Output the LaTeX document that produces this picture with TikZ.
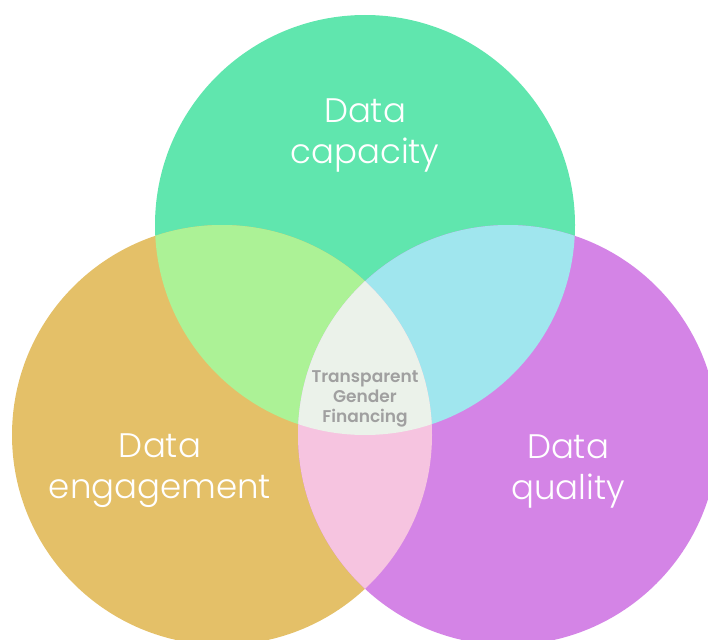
\documentclass[tikz,border=0pt]{standalone}
\usepackage{fontspec}
\setmainfont{Poppins}
\newfontfamily\lightfont{Poppins}[UprightFont=* Light]
\newfontfamily\semifont{Poppins}[UprightFont=* SemiBold]
\definecolor{cgreen}{HTML}{60E6AE}
\definecolor{corange}{HTML}{E4C068}
\definecolor{cpurple}{HTML}{D484E6}
\definecolor{cgo}{HTML}{ACF296}
\definecolor{cgp}{HTML}{A0E6EE}
\definecolor{cop}{HTML}{F6C4E0}
\definecolor{call}{HTML}{EBF2EA}
\definecolor{ctext}{HTML}{A0A0A0}
\tikzset{
  biglabel/.style={text=white, align=center, font=\lightfont\fontsize{34}{41}\selectfont},
  midlabel/.style={text=ctext, align=center, font=\semifont\fontsize{17}{20}\selectfont}
}
\begin{document}
\begin{tikzpicture}[x=1pt,y=-1pt]
\useasboundingbox (0,0) rectangle (708,639);
\def\cg{(365,225) circle (210)}
\def\co{(222,435) circle (210)}
\def\cp{(508,435) circle (210)}
\fill[cgreen] \cg;
\fill[corange] \co;
\fill[cpurple] \cp;
\begin{scope}\clip \cg; \fill[cgo] \co; \end{scope}
\begin{scope}\clip \cg; \fill[cgp] \cp; \end{scope}
\begin{scope}\clip \co; \fill[cop] \cp; \end{scope}
\begin{scope}\clip \cg; \clip \co; \fill[call] \cp; \end{scope}
\node[biglabel] (cap) at (365,136) {Data\\capacity};
\node[biglabel] (eng) at (160,471) {Data\\engagement};
\node[biglabel] (qual) at (568,471) {Data\\quality};
\node[midlabel] (mid) at (365,399) {Transparent\\Gender\\Financing};
\end{tikzpicture}
\end{document}
